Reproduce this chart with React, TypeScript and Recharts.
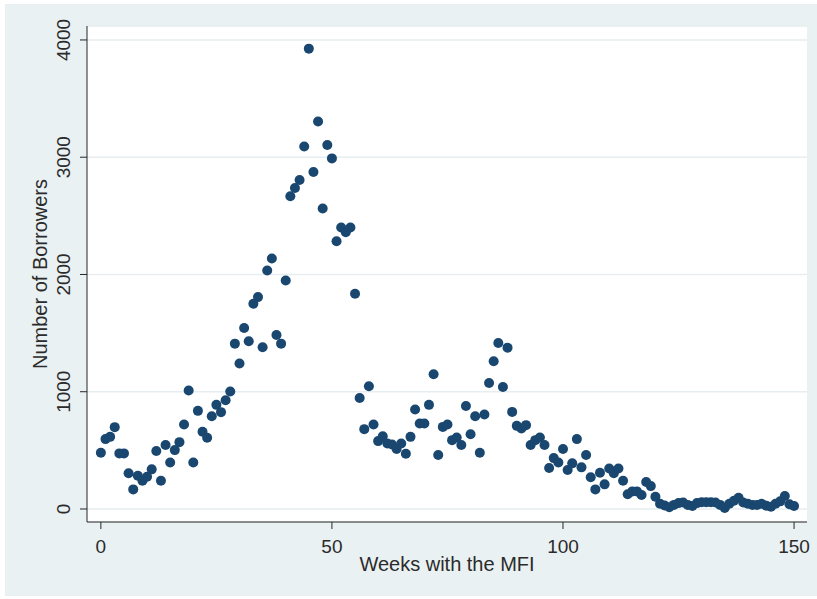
import { ScatterChart, Scatter, XAxis, YAxis, ZAxis, CartesianGrid } from 'recharts'

// weeks since joining the MFI, one point per week
const weeks = Array.from({ length: 151 }, (_, i) => i)

const borrowers = [
  480, 596, 615, 698, 474, 474, 304, 167, 284, 241,
  275, 338, 494, 241, 545, 397, 502, 570, 721, 1010,
  397, 837, 658, 607, 791, 888, 826, 928, 1002, 1410,
  1240, 1543, 1430, 1751, 1807, 1379, 2034, 2136, 1484, 1410,
  1949, 2667, 2738, 2806, 3092, 3926, 2874, 3305, 2562, 3104,
  2990, 2283, 2400, 2360, 2400, 1836, 947, 681, 1047, 721,
  579, 621, 559, 550, 511, 559, 471, 615, 848, 729,
  729, 888, 1149, 460, 700, 721, 587, 610, 545, 879,
  638, 791, 479, 806, 1075, 1260, 1415, 1041, 1376, 828,
  709, 687, 715, 545, 587, 610, 545, 350, 434, 397,
  511, 332, 389, 596, 355, 460, 270, 167, 309, 210,
  346, 304, 346, 241, 125, 150, 150, 119, 230, 195,
  105, 45, 30, 15, 35, 50, 55, 35, 25, 50,
  58, 58, 58, 55, 35, 8, 45, 70, 95, 55,
  45, 35, 35, 45, 28, 20, 45, 65, 110, 40,
  25,
]

const xTicks = [0, 50, 100, 150]
const yTicks = [0, 1000, 2000, 3000, 4000]

const data = weeks.map((w, i) => ({ week: w, n: borrowers[i] }))

const FONT = '"Liberation Sans", Arial, sans-serif'
const TEXT = '#2b2b2b'
const AXIS = '#262626'
const MARKER = '#1a476f'

const YTick = ({ x, y, payload }: any) => (
  <text
    x={x}
    y={y}
    transform={`rotate(-90, ${x}, ${y})`}
    textAnchor="middle"
    fontSize={19}
    fontFamily={FONT}
    fill={TEXT}
  >
    {payload.value}
  </text>
)

const Dot = ({ cx, cy }: any) => <circle cx={cx} cy={cy} r={5} fill={MARKER} />

export default function App() {
  return (
    <div style={{ position: 'absolute', left: 0, top: 0, width: 817, height: 599, background: '#fff' }}>
      <div style={{ position: 'absolute', left: 5, top: 4, width: 812, height: 592, background: '#eaf1f3' }} />
      <div style={{ position: 'absolute', left: 0, top: 0 }}>
        <ScatterChart width={817} height={599} margin={{ top: 26, right: 10, bottom: 42, left: -7 }}>
          <CartesianGrid vertical={false} stroke="#e6eef1" strokeWidth={1.5} fill="#ffffff" />
          <XAxis
            type="number"
            dataKey="week"
            domain={[-3, 152.8]}
            ticks={xTicks}
            allowDataOverflow
            height={35}
            tickSize={7}
            tickMargin={11}
            stroke={AXIS}
            tick={{ fontSize: 19, fontFamily: FONT, fill: TEXT }}
            label={{ value: 'Weeks with the MFI', position: 'bottom', offset: 0, fontSize: 20, fontFamily: FONT, fill: TEXT }}
          />
          <YAxis
            type="number"
            dataKey="n"
            domain={[-111, 4119]}
            ticks={yTicks}
            allowDataOverflow
            width={94}
            tickSize={7}
            tickMargin={10}
            stroke={AXIS}
            tick={<YTick />}
            label={{ value: 'Number of Borrowers', angle: -90, position: 'center', fontSize: 20, fontFamily: FONT, fill: TEXT }}
          />
          <ZAxis range={[80, 80]} />
          <Scatter data={data} shape={<Dot />} isAnimationActive={false} />
        </ScatterChart>
      </div>
    </div>
  )
}
